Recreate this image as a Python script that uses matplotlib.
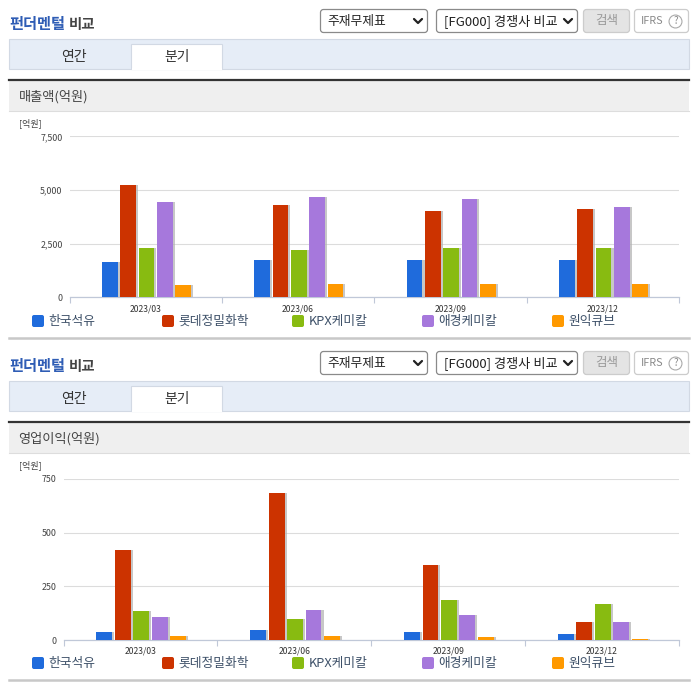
#!/usr/bin/env python3

import matplotlib
matplotlib.use('Agg')
import matplotlib.pyplot as plt
import matplotlib.patheffects as pe
from matplotlib.patches import FancyBboxPatch, Rectangle
from matplotlib.ticker import FuncFormatter
import numpy as np

plt.rcParams['font.family'] = ['Noto Sans CJK KR', 'DejaVu Sans']

W, H = 696, 684

quarters = ['2023/03', '2023/06', '2023/09', '2023/12']
companies = ['한국석유', '롯데정밀화학', 'KPX케미칼', '애경케미칼', '원익큐브']
colors = ['#1f6bdc', '#cc3300', '#88bb11', '#a678dc', '#ff9900']

revenue = [
	[1650, 1750, 1750, 1750],
	[5230, 4300, 4020, 4120],
	[2310, 2210, 2310, 2310],
	[4450, 4680, 4580, 4220],
	[560, 640, 620, 620],
]
profit = [
	[38, 47, 36, 28],
	[420, 685, 350, 83],
	[133, 100, 185, 170],
	[108, 142, 118, 85],
	[20, 20, 14, 3],
]
revenue_ticks = [0, 2500, 5000, 7500]
profit_ticks = [0, 250, 500, 750]

fig = plt.figure(figsize=(W / 100, H / 100), dpi=100)
bg = fig.add_axes([0, 0, 1, 1])
bg.set_xlim(0, W)
bg.set_ylim(H, 0)
bg.axis('off')

def rect(x0, y0, x1, y1, fc, ec='none', lw=0.8):
	bg.add_patch(Rectangle((x0, y0), x1 - x0, y1 - y0, facecolor=fc, edgecolor=ec, linewidth=lw))

def rounded(x0, y0, x1, y1, fc, ec, r=3, lw=0.9):
	bg.add_patch(FancyBboxPatch((x0 + r, y0 + r), x1 - x0 - 2 * r, y1 - y0 - 2 * r,
		boxstyle=f'round,pad={r},rounding_size={r}', facecolor=fc, edgecolor=ec, linewidth=lw))

def chevron(x, y):
	bg.plot([x - 4, x, x + 4], [y - 2, y + 2, y - 2], color='#222222', lw=1.6, solid_capstyle='round')

def draw_chrome(dy, header):
	bg.text(9.5, 24.5 + dy, '펀더멘털', color='#2f5db5', fontsize=11, fontweight='bold', va='center')
	bg.text(69, 24.5 + dy, '비교', color='#444444', fontsize=10.4, fontweight='bold', va='center')

	rounded(320.5, 9.5 + dy, 427.5, 32.5 + dy, 'white', '#8a8a8a')
	bg.text(327.5, 21.5 + dy, '주재무제표', color='#222222', fontsize=9.2, va='center')
	chevron(418, 21 + dy)
	rounded(436.5, 9.5 + dy, 577.5, 32.5 + dy, 'white', '#8a8a8a')
	bg.text(444.5, 21.5 + dy, '[FG000] 경쟁사 비교', color='#222222', fontsize=9.5, va='center')
	chevron(568, 21 + dy)
	rounded(583.5, 9.5 + dy, 629.5, 32.5 + dy, '#e4e4e4', '#cccccc')
	bg.text(606.5, 20.5 + dy, '검색', color='#999999', fontsize=9, ha='center', va='center')
	rounded(634.5, 9.5 + dy, 688.5, 32.5 + dy, 'white', '#cccccc')
	bg.text(641, 21 + dy, 'IFRS', color='#8a8a8a', fontsize=7.8, va='center')
	bg.text(675.5, 21.5 + dy, '?', color='#8a8a8a', fontsize=7, ha='center', va='center',
		bbox=dict(boxstyle='circle,pad=0.15', fc='white', ec='#aaaaaa', lw=0.8))

	rect(9, 39 + dy, 688.5, 68.5 + dy, '#e6edf7', '#d2d9e4')
	rect(131, 44 + dy, 222, 69 + dy, 'white', '#d2d9e4')
	rect(131.5, 67.5 + dy, 221.5, 70 + dy, 'white')
	bg.text(74, 56.5 + dy, '연간', color='#333333', fontsize=10, ha='center', va='center')
	bg.text(177, 56.5 + dy, '분기', color='#333333', fontsize=10, ha='center', va='center')

	rect(9, 81 + dy, 689, 111 + dy, '#efefef')
	bg.plot([9, 689], [111 + dy, 111 + dy], color='#dddddd', lw=0.8)
	bg.plot([9, 689], [80 + dy, 80 + dy], color='#333333', lw=1.6)
	bg.text(18.5, 97 + dy, header, color='#444444', fontsize=9.5, va='center')

	bg.text(19.5, 123 + dy, '[억원]', color='#444444', fontsize=6.5, va='center')

	for i, name in enumerate(companies):
		x = 32 + 130 * i
		rounded(x, 315 + dy, x + 12, 327 + dy, colors[i], 'none', r=2, lw=0)
		bg.text(x + 16.5, 321.7 + dy, name, color='#3d5068', fontsize=9.2, va='center')

	bg.plot([9, 689], [338 + dy, 338 + dy], color='#c8c8c8', lw=1.8)

def draw_chart(series, yticks, left, right, top, bottom):
	ax = fig.add_axes([left / W, 1 - bottom / H, (right - left) / W, (bottom - top) / H])
	ax.patch.set_visible(False)
	x = np.arange(len(quarters))
	for i, values in enumerate(series):
		ax.bar(x + (i - 2) * 0.12 + 0.005, values, width=0.103, color=colors[i], zorder=3,
			path_effects=[pe.SimplePatchShadow(offset=(1.5, 0), shadow_rgbFace='#b0b0b0', alpha=0.7), pe.Normal()])
	ax.set_xlim(-0.5, len(quarters) - 0.5)
	ax.set_ylim(yticks[0], yticks[-1])
	ax.set_yticks(yticks)
	ax.yaxis.set_major_formatter(FuncFormatter(lambda v, p: f'{int(v):,}'))
	ax.set_xticks(np.arange(len(quarters) + 1) - 0.5)
	ax.set_xticklabels([])
	ax.set_xticks(x, quarters, minor=True)
	ax.tick_params(axis='x', which='major', length=4, width=0.8, color='#c0c8d8')
	ax.tick_params(axis='x', which='minor', length=0, pad=5, labelsize=6.2, labelcolor='#333333')
	ax.tick_params(axis='y', length=0, pad=5, labelsize=6.4, labelcolor='#444444')
	ax.grid(axis='y', color='#dcdcdc', lw=0.8, zorder=0)
	ax.set_axisbelow(True)
	for side in ['top', 'right', 'left']:
		ax.spines[side].set_visible(False)
	ax.spines['bottom'].set_color('#c0c8d8')
	ax.spines['bottom'].set_linewidth(0.9)
	return ax

draw_chrome(0, '매출액(억원)')
draw_chrome(342, '영업이익(억원)')
draw_chart(revenue, revenue_ticks, 69.5, 679, 136.5, 297.5)
draw_chart(profit, profit_ticks, 63.5, 679, 479, 640)

fig.savefig('out.png', dpi=100)
